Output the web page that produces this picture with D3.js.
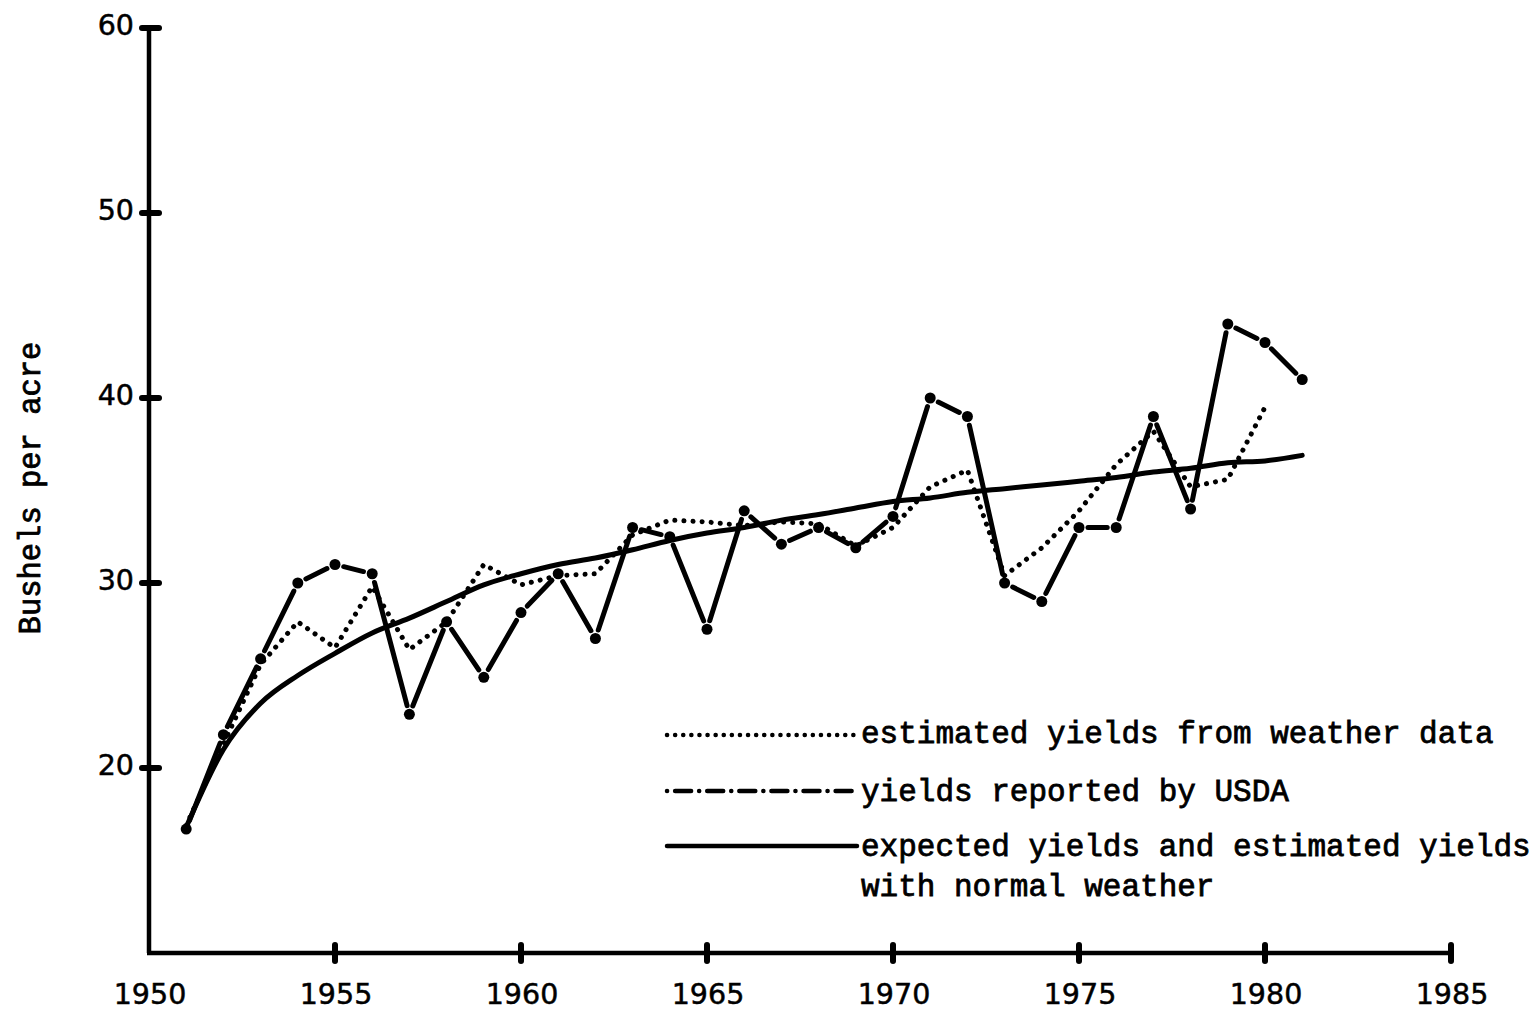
<!DOCTYPE html>
<html>
<head>
<meta charset="utf-8">
<script src="https://cdn.jsdelivr.net/npm/d3@7/dist/d3.min.js"></script>
<style>
html,body{margin:0;padding:0;background:#fff;}
svg{display:block;}
</style>
</head>
<body>
<svg id="chart" width="1535" height="1016"></svg>
<script>
const years = d3.range(1951, 1982);
const usda = [16.7,21.8,25.9,30.0,31.0,30.5,22.9,27.9,24.9,28.4,30.5,27.0,33.0,32.5,27.5,33.9,32.1,33.0,31.9,33.6,40.0,39.0,30.0,29.0,33.0,33.0,39.0,34.0,44.0,43.0,41.0];
const estYears = d3.range(1951, 1981);
const estimated = [16.9,21.3,25.6,27.9,26.5,29.8,26.4,27.9,31.0,29.9,30.4,30.5,32.6,33.4,33.3,33.1,33.3,33.2,32.0,33.0,35.2,36.1,30.4,31.9,33.9,36.4,38.2,35.2,35.6,39.5];
const expected = [16.8,21.0,23.5,25.0,26.2,27.3,28.1,29.0,29.9,30.5,31.0,31.35,31.8,32.3,32.7,33.0,33.4,33.7,34.05,34.4,34.6,34.9,35.1,35.3,35.5,35.7,36.0,36.2,36.5,36.6,36.9];
const xTicks = [1950,1955,1960,1965,1970,1975,1980,1985];
const yTicks = [20,30,40,50,60];
const legendLabels = ["estimated yields from weather data","yields reported by USDA","expected yields and estimated yields","with normal weather"];
const yLabel = "Bushels per acre";

const svg = d3.select("#chart");
const x = d3.scaleLinear().domain([1950,1985]).range([149,1451]);
const y = d3.scaleLinear().domain([10,60]).range([953,28]);
const ink = "#000";
const mono = "Liberation Mono";
const sans = "DejaVu Sans";

// axes
const g = svg.append("g");
g.append("line").attr("x1",x(1950)).attr("x2",x(1950)).attr("y1",y(60)).attr("y2",y(10))
  .attr("stroke",ink).attr("stroke-width",4.5);
g.append("line").attr("x1",x(1950)-2).attr("x2",x(1985)).attr("y1",y(10)).attr("y2",y(10))
  .attr("stroke",ink).attr("stroke-width",4.5);

yTicks.forEach(t=>{
  g.append("line").attr("x1",x(1950)-7).attr("x2",x(1950)+10).attr("y1",y(t)).attr("y2",y(t))
    .attr("stroke",ink).attr("stroke-width",6).attr("stroke-linecap","round");
  g.append("text").attr("x",x(1950)-15).attr("y",y(t)-3).attr("dy","0.36em")
    .attr("text-anchor","end").attr("font-family",sans)
    .attr("font-size",28.5).attr("fill",ink).attr("stroke",ink).attr("stroke-width",0.5).text(t);
});
xTicks.forEach(t=>{
  if(t!==1950){
    g.append("line").attr("x1",x(t)).attr("x2",x(t)).attr("y1",y(10)-8).attr("y2",y(10)+8)
      .attr("stroke",ink).attr("stroke-width",6).attr("stroke-linecap","round");
  }
  g.append("text").attr("x",x(t)+1).attr("y",1004)
    .attr("text-anchor","middle").attr("font-family",sans)
    .attr("font-size",28.5).attr("fill",ink).attr("stroke",ink).attr("stroke-width",0.5).text(t);
});

// y label
svg.append("text").attr("transform",`translate(40,${488}) rotate(-90)`)
  .attr("text-anchor","middle").attr("font-family",mono).attr("font-size",30.5)
  .attr("fill",ink).attr("stroke",ink).attr("stroke-width",0.8).text(yLabel);

// expected (solid)
const expLine = d3.line().x((d,i)=>x(years[i])).y(d=>y(d)).curve(d3.curveMonotoneX);
svg.append("path").attr("d",expLine(expected)).attr("fill","none")
  .attr("stroke",ink).attr("stroke-width",5).attr("stroke-linecap","round");

// estimated (dotted)
const estLine = d3.line().x((d,i)=>x(estYears[i])).y(d=>y(d));
svg.append("path").attr("d",estLine(estimated)).attr("fill","none")
  .attr("stroke",ink).attr("stroke-width",5).attr("stroke-linecap","round")
  .attr("stroke-dasharray","0.1 9");

// USDA (segments with gaps + dots)
const pts = usda.map((v,i)=>[x(years[i]), y(v)]);
const gap = 9;
const usdaG = svg.append("g");
for(let i=0;i<pts.length-1;i++){
  const [x1,y1]=pts[i],[x2,y2]=pts[i+1];
  const L = Math.hypot(x2-x1,y2-y1);
  const ux=(x2-x1)/L, uy=(y2-y1)/L;
  usdaG.append("line").attr("x1",x1+ux*gap).attr("y1",y1+uy*gap)
    .attr("x2",x2-ux*gap).attr("y2",y2-uy*gap)
    .attr("stroke",ink).attr("stroke-width",5).attr("stroke-linecap","round");
}
usdaG.selectAll("circle").data(pts).join("circle")
  .attr("cx",d=>d[0]).attr("cy",d=>d[1]).attr("r",5.5).attr("fill",ink);

// legend
const lx1 = 667, lx2 = 857;
const leg = svg.append("g");
leg.append("line").attr("x1",lx1).attr("x2",lx2).attr("y1",735).attr("y2",735)
  .attr("stroke",ink).attr("stroke-width",4.5).attr("stroke-linecap","round").attr("stroke-dasharray","0.1 8");
leg.append("line").attr("x1",lx1).attr("x2",lx2).attr("y1",791).attr("y2",791)
  .attr("stroke",ink).attr("stroke-width",4.5).attr("stroke-linecap","round").attr("stroke-dasharray","0.1 8 16 8");
leg.append("line").attr("x1",lx1).attr("x2",lx2).attr("y1",846).attr("y2",846)
  .attr("stroke",ink).attr("stroke-width",4.5).attr("stroke-linecap","round");
const ly = [743,801,856,896];
legendLabels.forEach((t,i)=>{
  leg.append("text").attr("x",861).attr("y",ly[i]).attr("font-family",mono).attr("font-size",31)
    .attr("fill",ink).attr("stroke",ink).attr("stroke-width",0.8).text(t);
});
</script>
</body>
</html>
